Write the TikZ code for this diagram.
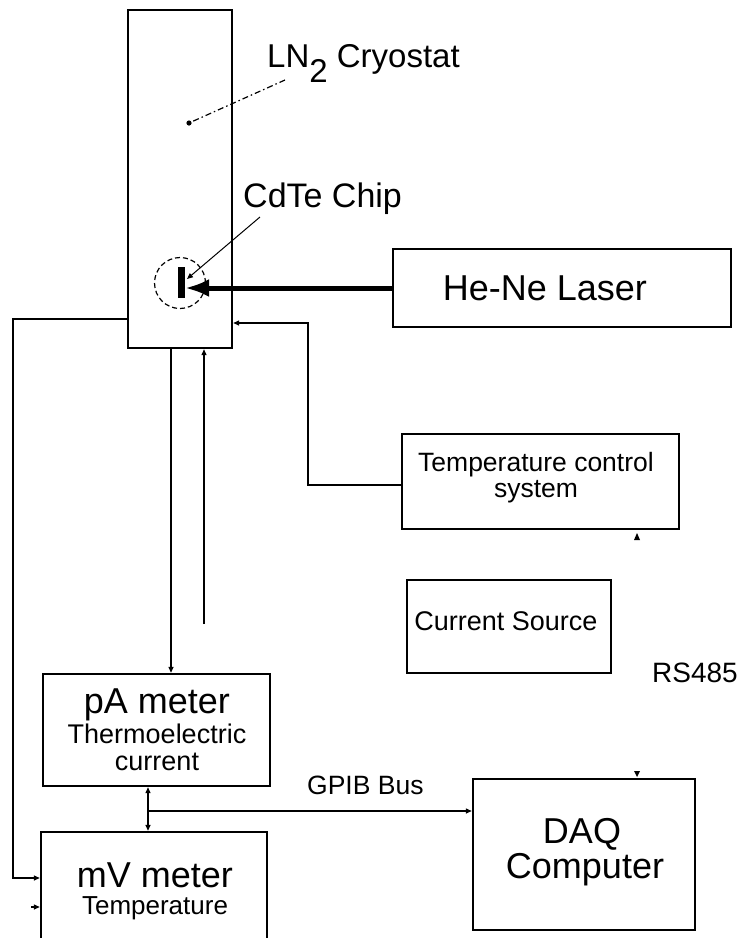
\documentclass[tikz,border=0pt]{standalone}
\usepackage{fontspec}
\setmainfont{Liberation Sans}
\usetikzlibrary{arrows.meta}
\begin{document}
\begin{tikzpicture}[x=1pt,y=-1pt,
  box/.style={draw, line width=2.4pt, inner sep=0pt},
  conn/.style={line width=1.3pt},
  tip/.style={-{Triangle[length=6pt,width=5pt]}},
  dtip/.style={{Triangle[length=6pt,width=5pt]}-{Triangle[length=6pt,width=5pt]}},
  txt/.style={anchor=base, inner sep=0pt},
  big/.style={font=\fontsize{36}{36}\selectfont},
  mid/.style={font=\fontsize{33}{33}\selectfont},
  small/.style={font=\fontsize{27}{27}\selectfont},
]
\useasboundingbox (0,0) rectangle (743,938);

% boxes
\node[box, minimum width=104, minimum height=338] (cryo) at (180,179) {};
\node[box, minimum width=338, minimum height=78] (laser) at (562,288) {};
\node[box, minimum width=277, minimum height=95] (tcs) at (540.5,481.5) {};
\node[box, minimum width=204, minimum height=93] (cs) at (509,626.5) {};
\node[box, minimum width=227, minimum height=112] (pa) at (156.5,730) {};
\node[box, minimum width=226, minimum height=112] (mv) at (154,888) {};
\node[box, minimum width=222, minimum height=151] (daq) at (584,854.5) {};

% texts
\node[txt, anchor=base west, mid] (lnlab) at (267,67) {LN\raisebox{-15pt}{2} Cryostat};
\node[txt, anchor=base west, font=\fontsize{34}{34}\selectfont] (cdlab) at (243,207) {CdTe Chip};
\node[txt, big] (lasert) at (545,300) {He-Ne Laser};
\node[txt, font=\fontsize{26.5}{26.5}\selectfont] (tcst1) at (536,471) {Temperature control};
\node[txt, font=\fontsize{26.5}{26.5}\selectfont] (tcst2) at (536,497) {system};
\node[txt, small] (cst) at (506,630) {Current Source};
\node[txt, anchor=base west, font=\fontsize{28}{28}\selectfont] (rs) at (652,682) {RS485};
\node[txt, big] (pat1) at (157,713) {pA meter};
\node[txt, small] (pat2) at (157,743) {Thermoelectric};
\node[txt, small] (pat3) at (157,770) {current};
\node[txt, big] (mvt1) at (155,887) {mV meter};
\node[txt, font=\fontsize{26}{26}\selectfont] (mvt2) at (155,914) {Temperature};
\node[txt, big] (daqt1) at (582,843) {DAQ};
\node[txt, big] (daqt2) at (585,878) {Computer};
\node[txt, anchor=base west, font=\fontsize{26.5}{26.5}\selectfont] (gpib) at (307,794) {GPIB Bus};

% CdTe chip
\node[circle, draw, line width=1.2pt, dash pattern=on 5pt off 3pt, minimum size=51, inner sep=0pt] (chip) at (180,283) {};
\coordinate (bartop) at (181,267);
\coordinate (barbot) at (181,298);
\draw[line width=7pt] (bartop) -- (barbot);
\coordinate (beamend) at (185,288);
\draw[line width=5pt, -{Latex[length=24pt,width=18pt]}] (laser.west) -- (beamend);

% leaders
\coordinate (lnA) at (285,80);
\coordinate (lnB) at (189,123);
\draw[line width=1.2pt, dash pattern=on 6pt off 3pt on 1.5pt off 3pt] (lnA) -- (lnB);
\fill (lnB) circle (2.6pt);
\coordinate (cdA) at (260,217);
\coordinate (cdB) at (187,279);
\draw[line width=1pt, tip] (cdA) -- (cdB);

% connectors
\coordinate (c1) at (13,319);
\coordinate (c2) at (13,878);
\draw[conn, tip] (cryo.west |- c1) -- (c1) -- (c2) -- (mv.west |- c2);
\coordinate (stub) at (31,907);
\draw[conn, tip] (stub) -- (mv.west |- stub);

\coordinate (d1) at (171,348);
\draw[conn, tip] (cryo.south -| d1) -- (pa.north -| d1);
\coordinate (d2) at (204,624);
\draw[conn, tip] (d2) -- (cryo.south -| d2);

\coordinate (t1) at (308,485);
\coordinate (t2) at (308,323);
\draw[conn, tip] (tcs.west |- t1) -- (t1) -- (t2) -- (cryo.east |- t2);

\coordinate (g1) at (148,786);
\draw[conn, dtip] (pa.south -| g1) -- (mv.north -| g1);
\coordinate (g2) at (148,811);
\draw[conn, tip] (g2) -- (daq.west |- g2);

% orphan arrowheads
\fill (634,540) -- (640,540) -- (637,533) -- cycle;
\fill (634,771) -- (640,771) -- (637,777) -- cycle;
\end{tikzpicture}
\end{document}
